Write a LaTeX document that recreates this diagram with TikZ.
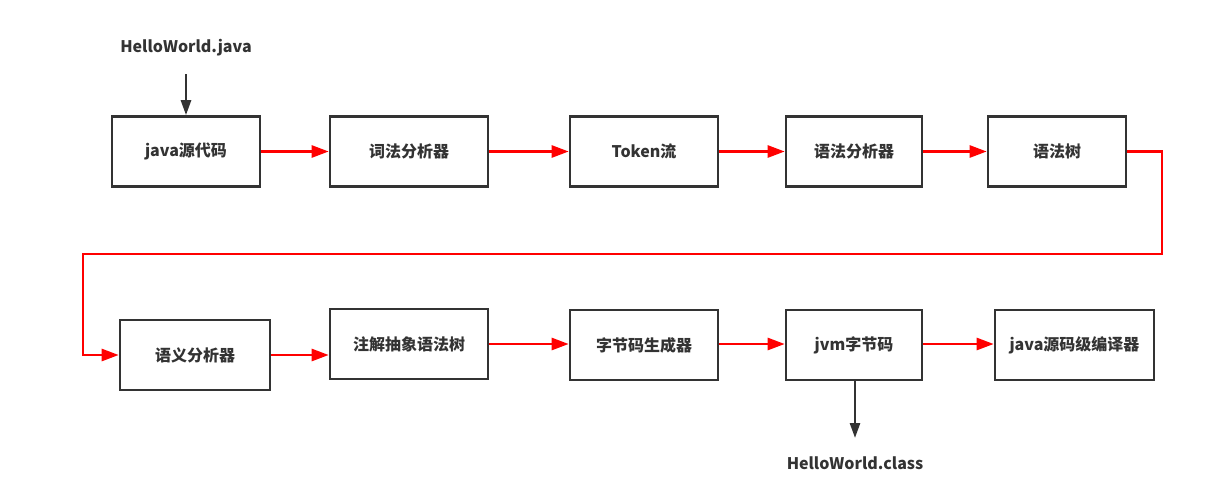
\documentclass[tikz,border=0pt]{standalone}
\usepackage{fontspec}
\usepackage{tikz}
\usetikzlibrary{arrows.meta, positioning, calc}
\setmainfont{Noto Sans CJK SC}
\definecolor{FlowRed}{RGB}{255, 0, 0}
\definecolor{FlowDark}{RGB}{51, 51, 51}
\tikzset{
    stagebox/.style={
      draw=FlowDark, line width=2.6pt, fill=white, text=FlowDark,
      minimum height=70pt, inner sep=0pt,
      font=\fontsize{16}{19}\selectfont\bfseries
    },
    redflow/.style={
      draw=FlowRed, line width=2.6pt,
      -{Triangle[length=17pt, width=12pt]}
    },
    darkflow/.style={
      draw=FlowDark, line width=2.6pt,
      -{Triangle[length=15pt, width=10pt]}
    },
    filelabel/.style={
      text=FlowDark, inner sep=0pt,
      font=\fontsize{16}{19}\selectfont\bfseries
    }
}

\begin{document}
\begin{tikzpicture}[x=1pt, y=-1pt]
    \path[use as bounding box] (0,0) rectangle (1232,496);

    \node[stagebox, minimum width=148pt] (src) at (186,151.5) {java源代码};
    \node[stagebox, minimum width=158pt] (lexer) at (409,151.5) {词法分析器};
    \node[stagebox, minimum width=148pt] (token) at (644,151.5) {Token流};
    \node[stagebox, minimum width=136pt] (parser) at (854,151.5) {语法分析器};
    \node[stagebox, minimum width=138pt] (tree) at (1057,151.5) {语法树};

    \node[stagebox, minimum width=150pt] (sema) at (195,355) {语义分析器};
    \node[stagebox, minimum width=158pt] (annot) at (409,344) {注解抽象语法树};
    \node[stagebox, minimum width=148pt] (gen) at (644,345) {字节码生成器};
    \node[stagebox, minimum width=136pt] (bytecode) at (854,345) {jvm字节码};
    \node[stagebox, minimum width=159pt] (javac) at (1074.5,345) {java源码级编译器};

    \node[filelabel] (injava) at (186,48) {HelloWorld.java};
    \node[filelabel] (outclass) at (855,463) {HelloWorld.class};

    \coordinate (turnR) at (1162,254);
    \coordinate (turnL) at (83,254);
    \coordinate (inTop) at (186,74);
    \coordinate (outEnd) at (855,438);

    \draw[darkflow] (inTop) -- (src.north);
    \draw[redflow] (src) -- (lexer);
    \draw[redflow] (lexer) -- (token);
    \draw[redflow] (token) -- (parser);
    \draw[redflow] (parser) -- (tree);
    \draw[redflow] (tree.east) -| (turnR) -- (turnL) |- (sema.west);
    \draw[redflow] (sema.east) -- (sema.east -| annot.west);
    \draw[redflow] (annot.east) -- (annot.east -| gen.west);
    \draw[redflow] (gen.east |- annot.east) -- (annot.east -| bytecode.west);
    \draw[redflow] (bytecode.east |- annot.east) -- (annot.east -| javac.west);
    \draw[darkflow] (bytecode.south -| outEnd) -- (outEnd);
\end{tikzpicture}
\end{document}
